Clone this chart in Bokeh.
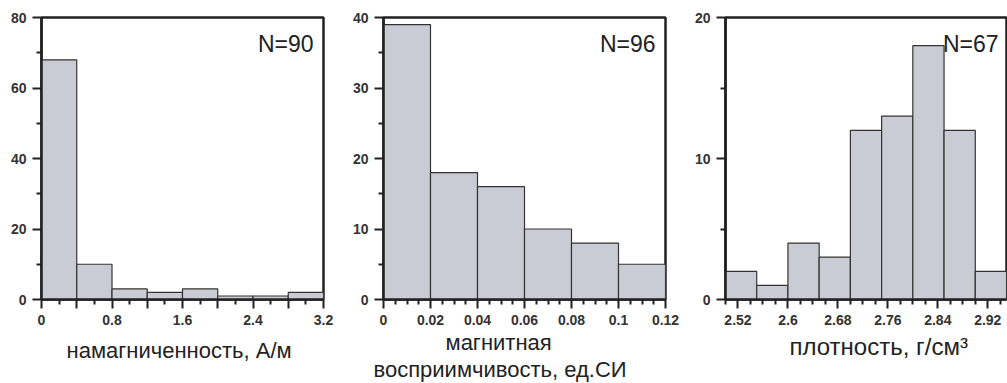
from bokeh.plotting import figure
from bokeh.layouts import row
from bokeh.models import Range1d, FixedTicker, Label, Title
from bokeh.embed import file_html
from bokeh.resources import INLINE

# ---- Panel 1: намагниченность ----
mag_edges = [0, 0.4, 0.8, 1.2, 1.6, 2.0, 2.4, 2.8, 3.2]
mag_counts = [68, 10, 3, 2, 3, 1, 1, 2]
mag_xticks = [0, 0.4, 0.8, 1.2, 1.6, 2.0, 2.4, 2.8, 3.2]
mag_xlabels = ["0", "", "0.8", "", "1.6", "", "2.4", "", "3.2"]
mag_xminor = [0.2, 0.6, 1.0, 1.4, 1.8, 2.2, 2.6, 3.0]
mag_yticks = [0, 20, 40, 60, 80]
mag_yminor = [10, 30, 50, 70]
mag_title = ["намагниченность, А/м"]

# ---- Panel 2: магнитная восприимчивость ----
sus_edges = [0, 0.02, 0.04, 0.06, 0.08, 0.1, 0.12]
sus_counts = [39, 18, 16, 10, 8, 5]
sus_xticks = [0, 0.02, 0.04, 0.06, 0.08, 0.1, 0.12]
sus_xlabels = ["0", "0.02", "0.04", "0.06", "0.08", "0.1", "0.12"]
sus_xminor = [0.005, 0.01, 0.015, 0.025, 0.03, 0.035, 0.045, 0.05, 0.055,
              0.065, 0.07, 0.075, 0.085, 0.09, 0.095, 0.105, 0.11, 0.115]
sus_yticks = [0, 10, 20, 30, 40]
sus_yminor = [5, 15, 25, 35]
sus_title = ["магнитная", "восприимчивость, ед.СИ"]

# ---- Panel 3: плотность ----
den_edges = [2.5, 2.55, 2.6, 2.65, 2.7, 2.75, 2.8, 2.85, 2.9, 2.95]
den_counts = [2, 1, 4, 3, 12, 13, 18, 12, 2]
den_xticks = [2.52, 2.6, 2.68, 2.76, 2.84, 2.92]
den_xlabels = ["2.52", "2.6", "2.68", "2.76", "2.84", "2.92"]
den_xminor = [2.5, 2.54, 2.56, 2.58, 2.62, 2.64, 2.66, 2.7, 2.72, 2.74,
              2.78, 2.8, 2.82, 2.86, 2.88, 2.9, 2.94]
den_yticks = [0, 10, 20]
den_yminor = [5, 15]
den_title = ["плотность, г/см³"]

FONT = "Liberation Sans"
DARK = "#222222"


def make_panel(edges, counts, xticks, xlabels, xminor, yticks, yminor,
               title_lines, title_standoffs, title_dx, title_size,
               ntext, width, bl, br, n_off):
    p = figure(width=width, height=383, output_backend="svg",
               toolbar_location=None,
               x_range=Range1d(edges[0], edges[-1]),
               y_range=Range1d(yticks[0], yticks[-1]),
               min_border_left=bl, min_border_right=br,
               min_border_top=17, min_border_bottom=84)
    p.grid.visible = False
    p.background_fill_color = "white"
    p.border_fill_color = "white"
    p.outline_line_color = DARK
    p.outline_line_width = 2.5
    p.outline_line_alpha = 1.0

    p.quad(left=edges[:-1], right=edges[1:], bottom=0, top=counts,
           fill_color="#c9ccd4", line_color="#333333", line_width=1.2)

    p.xaxis.ticker = FixedTicker(ticks=xticks, minor_ticks=xminor)
    p.xaxis.major_label_overrides = dict(zip(xticks, xlabels))
    p.yaxis.ticker = FixedTicker(ticks=yticks, minor_ticks=yminor)

    for ax in (p.xaxis[0], p.yaxis[0]):
        ax.axis_line_width = 2.5
        ax.axis_line_color = DARK
        ax.major_tick_line_color = DARK
        ax.minor_tick_line_color = DARK
        ax.major_tick_line_width = 2
        ax.minor_tick_line_width = 2
        ax.major_tick_line_alpha = 1.0
        ax.minor_tick_line_alpha = 1.0
        ax.major_tick_in = 0
        ax.major_tick_out = 9
        ax.minor_tick_in = 0
        ax.minor_tick_out = 5
        ax.major_label_text_font = FONT
        ax.major_label_text_font_style = "bold"
        ax.major_label_text_font_size = "14px"
        ax.major_label_text_color = "#333333"
        ax.major_label_standoff = 6

    for line, so, dx in zip(title_lines, title_standoffs, title_dx):
        t = Title(text=line, align="left", offset=dx, standoff=so,
                  text_font=FONT, text_font_size=title_size,
                  text_font_style="normal", text_color=DARK)
        p.add_layout(t, "below")

    p.add_layout(Label(x=edges[-1], y=yticks[-1], x_offset=-n_off, y_offset=-26,
                       text=ntext, text_align="right",
                       text_baseline="alphabetic", text_font=FONT,
                       text_font_size="23px", text_color=DARK))
    return p


p1 = make_panel(mag_edges, mag_counts, mag_xticks, mag_xlabels, mag_xminor,
                mag_yticks, mag_yminor, mag_title, [17], [25], "22px",
                "N=90", 345, 41, 22, 10)
p2 = make_panel(sus_edges, sus_counts, sus_xticks, sus_xlabels, sus_xminor,
                sus_yticks, sus_yminor, sus_title, [0, 0], [62, -10], "22px",
                "N=96", 340, 38, 20, 10)
p3 = make_panel(den_edges, den_counts, den_xticks, den_xlabels, den_xminor,
                den_yticks, den_yminor, den_title, [7], [64], "24px",
                "N=67", 322, 40, 1, 8)

layout = row(p1, p2, p3)
open("out.html", "w").write(file_html(layout, INLINE))
